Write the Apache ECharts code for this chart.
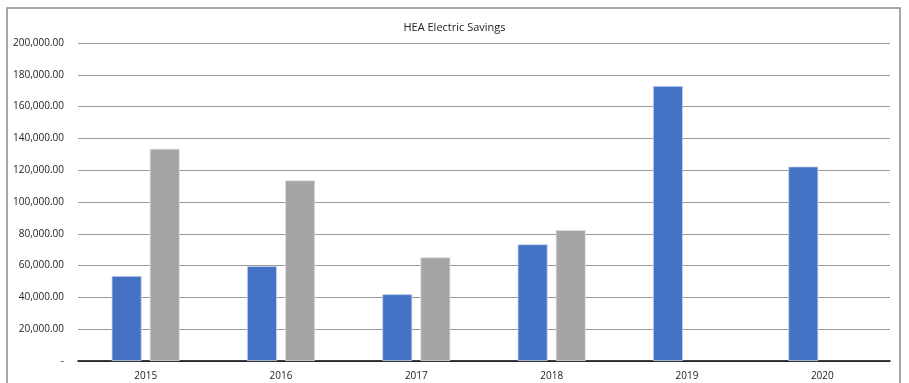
<!DOCTYPE html>
<html><head><meta charset="utf-8">
<script src="https://cdn.jsdelivr.net/npm/echarts@6/dist/echarts.min.js"></script>
<style>html,body{margin:0;padding:0;background:#fff}#c{width:909px;height:383px}</style>
</head><body><div id="c"></div>
<script>
const title = 'HEA Electric Savings';
const categories = ['2015','2016','2017','2018','2019','2020'];
const seriesA = [53500, 59700, 42000, 73400, 173000, 122300];
const seriesB = [133500, 113600, 65200, 82400, null, null];
const yMin = 0, yMax = 200000, yStep = 20000;

const chart = echarts.init(document.getElementById('c'));
const fmt = v => v === 0 ? '-' : v.toLocaleString('en-US',{minimumFractionDigits:2,maximumFractionDigits:2});
chart.setOption({
  animation:false,
  textStyle:{fontFamily:'Open Sans'},
  title:{text:title,left:'center',top:17,textStyle:{fontSize:11,fontWeight:'normal',color:'#222',fontFamily:'Open Sans'}},
  graphic:[{type:'rect',shape:{x:7,y:8,width:893,height:390},style:{fill:'none',stroke:'#8a8a8a',lineWidth:1.5},silent:true}],
  grid:{left:78,right:19,top:43,bottom:22,containLabel:false},
  xAxis:{type:'category',data:categories,
    axisLine:{lineStyle:{color:'#000',width:1.5}},axisTick:{show:false},
    axisLabel:{fontSize:10,color:'#222',margin:10}},
  yAxis:{type:'value',min:yMin,max:yMax,interval:yStep,
    axisLine:{show:false},axisTick:{show:false},
    splitLine:{lineStyle:{color:'#9a9a9a',width:1}},
    axisLabel:{fontSize:10,color:'#222',margin:14,formatter:fmt}},
  series:[
    {type:'bar',data:seriesA,barWidth:30,barGap:'27%',itemStyle:{color:'#4472C4',borderColor:'#c9d6ee',borderWidth:0.8}},
    {type:'bar',data:seriesB,barWidth:30,itemStyle:{color:'#A5A5A5',borderColor:'#e0e0e0',borderWidth:0.8}}
  ]
});
</script></body></html>
